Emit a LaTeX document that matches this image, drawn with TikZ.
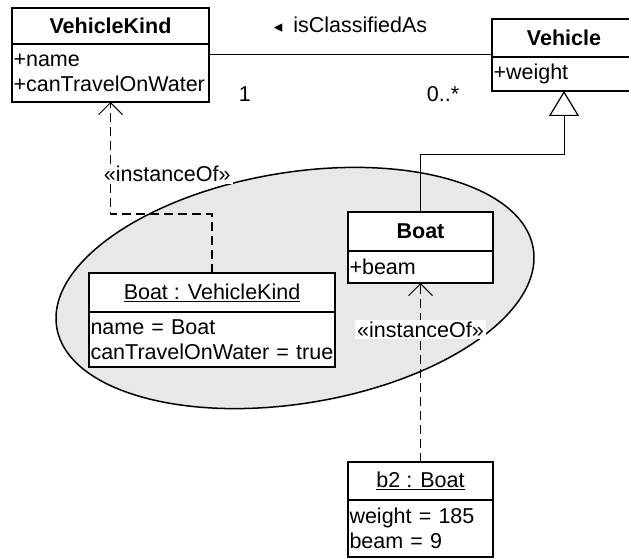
\documentclass[tikz,border=0pt]{standalone}
\usepackage{fontspec}
\setmainfont{Liberation Sans}
\newfontfamily\dejavu{DejaVu Sans}
\usetikzlibrary{arrows.meta,positioning}

\begin{document}
\begin{tikzpicture}[x=1pt, y=1pt, font=\fontsize{21.5}{25}\selectfont]

      \tikzset{clshead/.style={draw, line width=1.8pt, fill=white, outer sep=0pt, inner sep=0pt},
               clsbody/.style={draw, line width=1.8pt, fill=white, outer sep=0pt, inner xsep=1.5pt, inner ysep=0pt, align=left},
               inst/.style={line width=1.8pt, dash pattern=on 9pt off 5pt, -{Straight Barb[length=12pt, width=24pt, line width=1pt]}},
               gen/.style={line width=1pt, -{Triangle[open, length=25pt, width=30pt, line width=1.2pt]}},
               lbl/.style={fill=white, inner sep=2pt}}
      \clip (0,0) rectangle (629,558);
%% Package
      \draw[line width=1.5pt, fill=black!9, rotate around={9.4:(295,270)}] (295,270) ellipse [x radius=241.5, y radius=115.5];
%% Classes
      \node[clshead, minimum width=197pt, minimum height=36pt] (vk) at (110.5,532) {\textbf{VehicleKind}};
      \node[clsbody, text width=194pt, minimum height=58pt, below=0pt of vk] (vkb) {+name\\+canTravelOnWater};
      \node[clshead, minimum width=144pt, minimum height=38pt] (veh) at (564,520) {\textbf{Vehicle}};
      \node[clsbody, text width=141pt, minimum height=34pt, below=0pt of veh] (vehb) {+weight};
      \node[clshead, minimum width=145pt, minimum height=39pt] (boat) at (420.5,326.5) {\textbf{Boat}};
      \node[clsbody, text width=142pt, minimum height=32pt, below=0pt of boat] (boatb) {+beam};
%% Objects
      \node[clshead, minimum width=246pt, minimum height=39pt] (bvk) at (212,265.5) {\underline{Boat : VehicleKind}};
      \node[clsbody, text width=243pt, minimum height=55pt, below=0pt of bvk] (bvkb) {name = Boat\\canTravelOnWater = true};
      \node[clshead, minimum width=145pt, minimum height=38pt] (b2) at (420.5,77) {\underline{b2 : Boat}};
      \node[clsbody, text width=142pt, minimum height=57pt, below=0pt of b2] (b2b) {weight = 185\\beam = 9};
%Links
      \draw[line width=1pt] (vkb.north east) ++(0,-11) coordinate (asc) -- node[midway, above=18pt] {{\dejavu\fontsize{17}{20}\selectfont ◂}\hspace{11pt}isClassifiedAs} node[pos=0.127, below=28pt] {1} node[pos=0.827, below=28pt] {0..*} (asc -| veh.west);
      \draw[gen] (boat.north) -- ++(0,57) -| (vehb.south);
      \draw[inst] (b2.north) -- node[lbl, pos=0.74] {«instanceOf»} (boatb.south);
      \draw[inst] (bvk.north) -- ++(0,59) -| node[lbl, pos=0.68, anchor=west, xshift=-9.5pt] {«instanceOf»} (vkb.south);

\end{tikzpicture}
\end{document}
